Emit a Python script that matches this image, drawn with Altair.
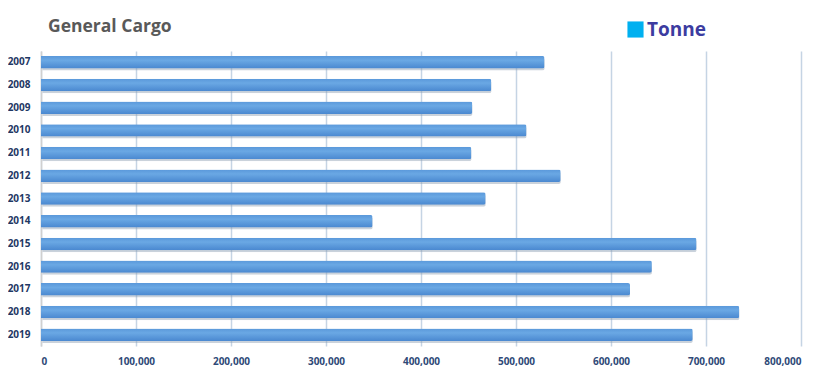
import altair as alt
import pandas as pd

years = ["2007", "2008", "2009", "2010", "2011", "2012", "2013",
         "2014", "2015", "2016", "2017", "2018", "2019"]
tonnes = [530000, 474000, 454000, 511000, 453000, 547000, 468000,
          349000, 690000, 643000, 620000, 735000, 686000]
series = ["Tonne"]
chart_title = ["General Cargo"]

df = pd.DataFrame({"year": years, "tonne": tonnes, "series": series * len(years)})

x_enc = alt.X("tonne:Q",
              scale=alt.Scale(domain=[0, 800000], nice=False),
              axis=alt.Axis(values=list(range(0, 800001, 100000)), format=",.0f",
                            title=None, grid=True, gridColor="#c5d4e4", gridWidth=1.5,
                            domain=False, ticks=False, labelPadding=10,
                            labelFont="Open Sans", labelFontSize=10, labelFontWeight="bold",
                            labelColor="#2f4a78"))
y_enc = alt.Y("year:N", sort=years,
              scale=alt.Scale(paddingInner=0.45, paddingOuter=0.22),
              axis=alt.Axis(title=None, domain=True, domainColor="#d0d0d0", domainWidth=1.5,
                            ticks=False, labelPadding=11,
                            labelFont="Open Sans", labelFontSize=10, labelFontWeight="bold",
                            labelColor="#1f3864"))

shadow = alt.Chart(df).mark_bar(color="#8a9bb0", opacity=0.45, xOffset=1.5, yOffset=2,
                                 cornerRadiusEnd=2).encode(x=x_enc, y=y_enc)

grad = alt.Gradient(gradient="linear", x1=0, x2=0, y1=0, y2=1,
                    stops=[alt.GradientStop(color="#5a98da", offset=0),
                           alt.GradientStop(color="#6aa8e4", offset=0.35),
                           alt.GradientStop(color="#4a88d0", offset=1)])
bars = alt.Chart(df).mark_bar(color=grad, cornerRadiusEnd=2).encode(x=x_enc, y=y_enc)

legend_layer = alt.Chart(df).mark_square(opacity=0).encode(
    color=alt.Color("series:N", scale=alt.Scale(range=["#00b0f0"]),
                    legend=alt.Legend(orient="none", legendX=585, legendY=-31, title=None,
                                      symbolType="square", symbolSize=260, symbolOpacity=1,
                                      symbolStrokeWidth=0, labelFont="Open Sans",
                                      labelFontSize=19, labelFontWeight="bold",
                                      labelColor="#3c3ca0", labelOffset=2))
)

title_layer = alt.Chart(pd.DataFrame({"t": chart_title})).mark_text(
    align="left", baseline="alphabetic", font="Open Sans", fontSize=17.5,
    fontWeight="bold", color="#595959"
).encode(text="t:N", x=alt.value(7), y=alt.value(-19))

chart = alt.layer(shadow, bars, legend_layer, title_layer).properties(
    width=760, height=295,
    background="white",
    autosize=alt.AutoSizeParams(type="none"),
    padding={"left": 33, "top": 43, "right": 25, "bottom": 25},
).configure_view(stroke=None)

chart.save("out.html", embed_options={"renderer": "svg", "actions": False})
